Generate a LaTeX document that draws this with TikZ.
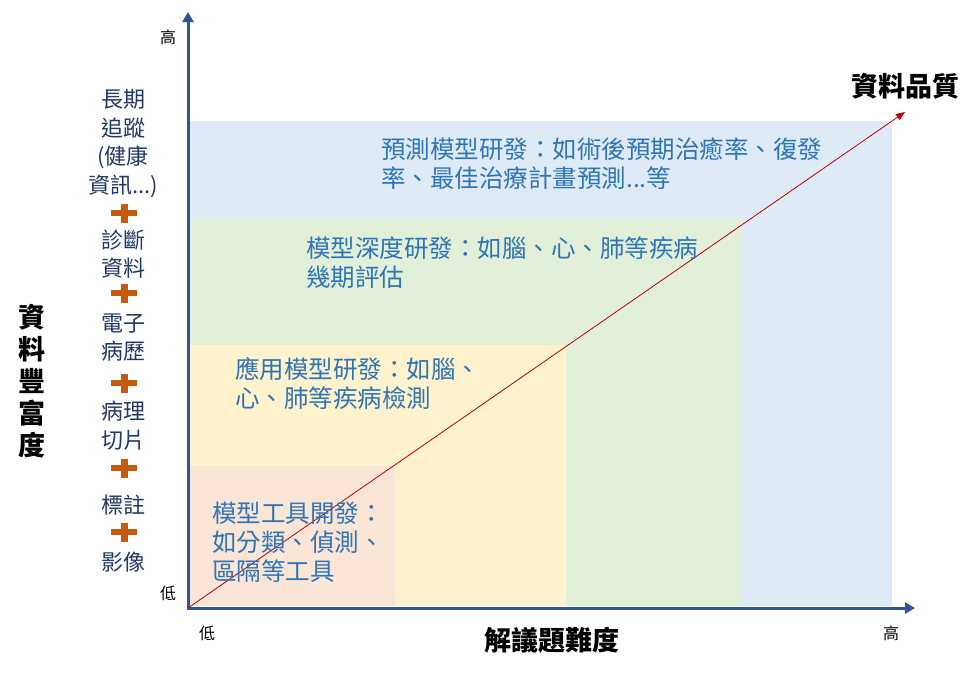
\documentclass[tikz,border=0pt]{standalone}
\usepackage{fontspec}
\setmainfont{Noto Sans CJK TC}
\usepackage{tikz}
\usetikzlibrary{arrows.meta,positioning}
\definecolor{axisblue}{HTML}{2F5597}
\definecolor{taskblue}{HTML}{2E75B6}
\definecolor{sourcenavy}{HTML}{203864}
\definecolor{plusorange}{HTML}{C55A11}
\definecolor{qualityred}{HTML}{C00000}
\definecolor{zonepink}{HTML}{FBE5D6}
\definecolor{zoneyellow}{HTML}{FFF2CC}
\definecolor{zonegreen}{HTML}{E2F0D9}
\definecolor{zoneblue}{HTML}{DEEBF7}
\tikzstyle{axis} = [line width=3pt, draw=axisblue, {Triangle[length=10pt,width=11pt]}-{Triangle[length=10pt,width=11pt]}]
\tikzstyle{quality} = [line width=0.8pt, draw=qualityred, -{Triangle[length=9pt,width=7pt]}]
\tikzstyle{task} = [text=taskblue, align=left, anchor=west, inner sep=0pt, font=\fontsize{24.5}{29}\selectfont]
\tikzstyle{source} = [text=sourcenavy, align=center, inner sep=0pt, font=\fontsize{22}{28.5}\selectfont]
\tikzstyle{title} = [inner sep=0pt, align=center, font=\bfseries\fontsize{27}{32}\selectfont]
\tikzstyle{tick} = [inner sep=0pt, font=\fontsize{16}{18}\selectfont]

\begin{document}
\begin{tikzpicture}[x=1pt, y=-1pt]
        \useasboundingbox (0,0) rectangle (979,673);
        % difficulty zones
        \fill[zoneblue] (190,121) rectangle (892,606);
        \fill[zonegreen] (190,218) rectangle (741,606);
        \fill[zoneyellow] (190,345) rectangle (566,606);
        \fill[zonepink] (190,466) rectangle (395,606);
        % axes
        \coordinate (origin) at (188,608);
        \coordinate (ytop) at (188,12);
        \coordinate (xend) at (915,608);
        \coordinate (qtip) at (905,112);
        \draw[axis] (ytop) -- (origin) -- (xend);
        \draw[quality] (origin) -- (qtip);
        \node (yhigh) [tick] at (168,37) {高};
        \node (ylow) [tick] at (168,593) {低};
        \node (xlow) [tick] at (207,633) {低};
        \node (xhigh) [tick] at (891,633) {高};
        \node (quality-title) [title] at (905,86) {資料品質};
        \node (difficulty-title) [title] at (552,640) {解議題難度};
        \node (richness-title) [title] at (32,381) {資\\料\\豐\\富\\度};
        % data sources
        \node (followup) [source] at (123,143.5) {長期\\追蹤\\(健康\\資訊...)};
        \node (diagnosis) [source] at (123,254) {診斷\\資料};
        \node (emr) [source] at (123,337.5) {電子\\病歷};
        \node (pathology) [source] at (123,425.5) {病理\\切片};
        \node (annotation) [source] at (123,505.5) {標註};
        \node (image) [source] at (123,562.5) {影像};
        \foreach \y in {213,293,383,468,532} {
            \fill[plusorange] (111,\y-3) rectangle (137,\y+3);
            \fill[plusorange] (120.5,\y-9.5) rectangle (127.5,\y+9.5);
        }
        % tasks
        \node (predict) [task] at (381,163.5) {預測模型研發：如術後預期治癒率、復發\\率、最佳治療計畫預測...等};
        \node (deep) [task] at (306,262.5) {模型深度研發：如腦、心、肺等疾病\\幾期評估};
        \node (apply) [task] at (235,383.5) {應用模型研發：如腦、\\心、肺等疾病檢測};
        \node (tool) [task] at (212,542) {模型工具開發：\\如分類、偵測、\\區隔等工具};
    \end{tikzpicture}
\end{document}
